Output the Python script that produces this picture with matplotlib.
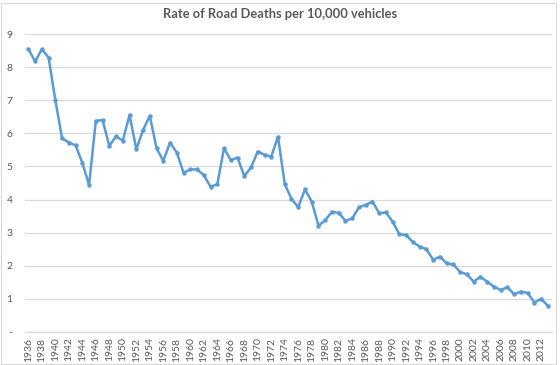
import matplotlib
matplotlib.use("Agg")
import matplotlib.pyplot as plt
from matplotlib.patches import Rectangle

# ── Data ──────────────────────────────────────────────────────────────────────
years = list(range(1936, 2014))
rates = [
    8.55, 8.17, 8.54, 8.29, 7.00, 5.85, 5.72, 5.64, 5.11, 4.44,   # 1936-1945
    6.38, 6.40, 5.62, 5.91, 5.78, 6.56, 5.52, 6.10, 6.53, 5.55,   # 1946-1955
    5.17, 5.72, 5.42, 4.81, 4.91, 4.91, 4.74, 4.39, 4.46, 5.55,   # 1956-1965
    5.19, 5.27, 4.71, 4.97, 5.45, 5.35, 5.30, 5.90, 4.47, 4.02,   # 1966-1975
    3.77, 4.31, 3.94, 3.21, 3.38, 3.63, 3.60, 3.36, 3.43, 3.77,   # 1976-1985
    3.84, 3.94, 3.59, 3.61, 3.33, 2.95, 2.93, 2.71, 2.58, 2.50,   # 1986-1995
    2.18, 2.28, 2.07, 2.04, 1.81, 1.74, 1.52, 1.67, 1.52, 1.37,   # 1996-2005
    1.27, 1.35, 1.14, 1.22, 1.18, 0.89, 1.00, 0.79,               # 2006-2013
]
title = "Rate of Road Deaths per 10,000 vehicles"
ytick_vals = list(range(0, 10))
ytick_labels = ["-"] + [str(v) for v in range(1, 10)]

# ── Style ─────────────────────────────────────────────────────────────────────
plt.rcParams["font.family"] = ["Lato", "DejaVu Sans"]
text_col = "#595959"
grid_col = "#D9D9D9"
line_col = "#5B9BD5"

fig = plt.figure(figsize=(5.6, 3.65), dpi=100)
ax = fig.add_axes([0.0446, 0.0904, 0.941, 0.8164])

ax.plot(years, rates, color=line_col, linewidth=1.8, marker="o",
        markersize=3.2, markeredgewidth=0, zorder=3)

ax.set_xlim(1935.5, 2013.6)
ax.set_ylim(0, 9)
ax.set_yticks(ytick_vals)
ax.set_yticklabels(ytick_labels)
ax.set_xticks(years[::2])
ax.set_xticklabels([str(y) for y in years[::2]], rotation=90)

ax.grid(axis="y", color=grid_col, linewidth=0.9, zorder=0)
for s in ["top", "right", "left"]:
    ax.spines[s].set_visible(False)
ax.spines["bottom"].set_color(grid_col)
ax.spines["bottom"].set_linewidth(0.9)
ax.tick_params(axis="both", length=0, colors=text_col, labelsize=7.5)
ax.tick_params(axis="y", pad=9)
ax.tick_params(axis="x", pad=4)

fig.text(0.5, 0.962, title, ha="center", va="center", fontsize=9.3,
         color=text_col, fontweight="bold")

# chart-area border
fig.patches.append(Rectangle((0.002, 0.003), 0.99, 0.99, transform=fig.transFigure,
                             fill=False, edgecolor=grid_col, linewidth=0.8))

fig.savefig("out.png", dpi=100)
